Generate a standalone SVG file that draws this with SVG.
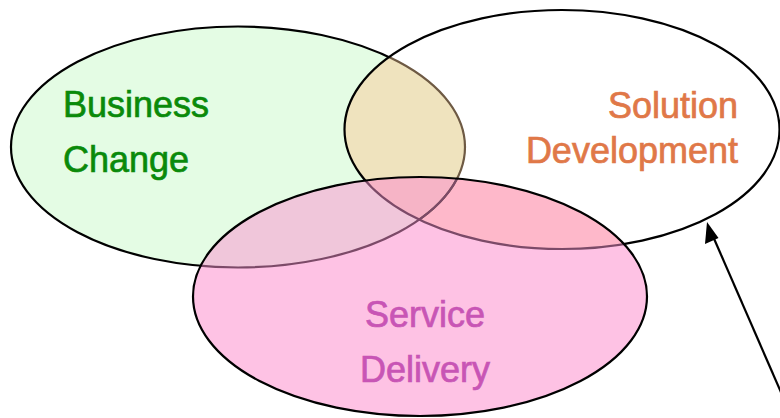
<svg xmlns="http://www.w3.org/2000/svg" width="780" height="418" viewBox="0 0 780 418">
<style>
.lbl{font-family:"Liberation Sans",Arial,sans-serif;font-size:36px;stroke-width:0.7;}
.ol{fill:none;stroke-width:2.2;}
</style>
<defs>
<clipPath id="cBC"><ellipse cx="238" cy="147" rx="227" ry="120.5"/></clipPath>
<clipPath id="cSD"><ellipse cx="562" cy="129.5" rx="217.5" ry="119.5"/></clipPath>
<clipPath id="cSV"><ellipse cx="420" cy="296.5" rx="227" ry="119.5"/></clipPath>
<mask id="mOutSDSV"><rect width="780" height="418" fill="#fff"/><ellipse cx="562" cy="129.5" rx="217.5" ry="119.5" fill="#000"/><ellipse cx="420" cy="296.5" rx="227" ry="119.5" fill="#000"/></mask>
<mask id="mOutSV"><rect width="780" height="418" fill="#fff"/><ellipse cx="420" cy="296.5" rx="227" ry="119.5" fill="#000"/></mask>
</defs>
<rect width="780" height="418" fill="#fff"/>
<g id="fills">
<ellipse cx="238" cy="147" rx="227" ry="120.5" fill="#E4FCE4"/>
<ellipse cx="562" cy="129.5" rx="217.5" ry="119.5" fill="#FFFFFF"/>
<ellipse cx="420" cy="296.5" rx="227" ry="119.5" fill="#FEC2E4"/>
<ellipse cx="562" cy="129.5" rx="217.5" ry="119.5" fill="#EFE3BE" clip-path="url(#cBC)"/>
<ellipse cx="420" cy="296.5" rx="227" ry="119.5" fill="#F0C6DA" clip-path="url(#cBC)"/>
<ellipse cx="420" cy="296.5" rx="227" ry="119.5" fill="#FEB8CA" clip-path="url(#cSD)"/>
<g clip-path="url(#cBC)"><ellipse cx="420" cy="296.5" rx="227" ry="119.5" fill="#F6B4C6" clip-path="url(#cSD)"/></g>
</g>
<g id="business-change">
<ellipse class="ol" cx="238" cy="147" rx="227" ry="120.5" stroke="#000" mask="url(#mOutSDSV)"/>
<ellipse class="ol" cx="238" cy="147" rx="227" ry="120.5" stroke="#6E5A44" clip-path="url(#cSD)"/>
<ellipse class="ol" cx="238" cy="147" rx="227" ry="120.5" stroke="#7C4A68" clip-path="url(#cSV)"/>
<text class="lbl" x="63" y="117" fill="#0A8A0A" stroke="#0A8A0A">Business</text>
<text class="lbl" x="63" y="172" fill="#0A8A0A" stroke="#0A8A0A">Change</text>
</g>
<g id="solution-development">
<ellipse class="ol" cx="562" cy="129.5" rx="217.5" ry="119.5" stroke="#000" mask="url(#mOutSV)"/>
<ellipse class="ol" cx="562" cy="129.5" rx="217.5" ry="119.5" stroke="#7C4A68" clip-path="url(#cSV)"/>
<text class="lbl" x="738" y="118" fill="#E07848" stroke="#E07848" text-anchor="end">Solution</text>
<text class="lbl" x="738" y="163" fill="#E07848" stroke="#E07848" text-anchor="end">Development</text>
</g>
<g id="service-delivery">
<ellipse class="ol" cx="420" cy="296.5" rx="227" ry="119.5" stroke="#000"/>
<text class="lbl" x="425" y="327" fill="#C855B5" stroke="#C855B5" text-anchor="middle">Service</text>
<text class="lbl" x="425" y="382" fill="#C855B5" stroke="#C855B5" text-anchor="middle">Delivery</text>
</g>
<g id="connectors">
<line x1="790" y1="413" x2="712" y2="234" stroke="#000" stroke-width="2.2"/>
<polygon points="707,222 718.5,238 705,244" fill="#000"/>
</g>
</svg>
